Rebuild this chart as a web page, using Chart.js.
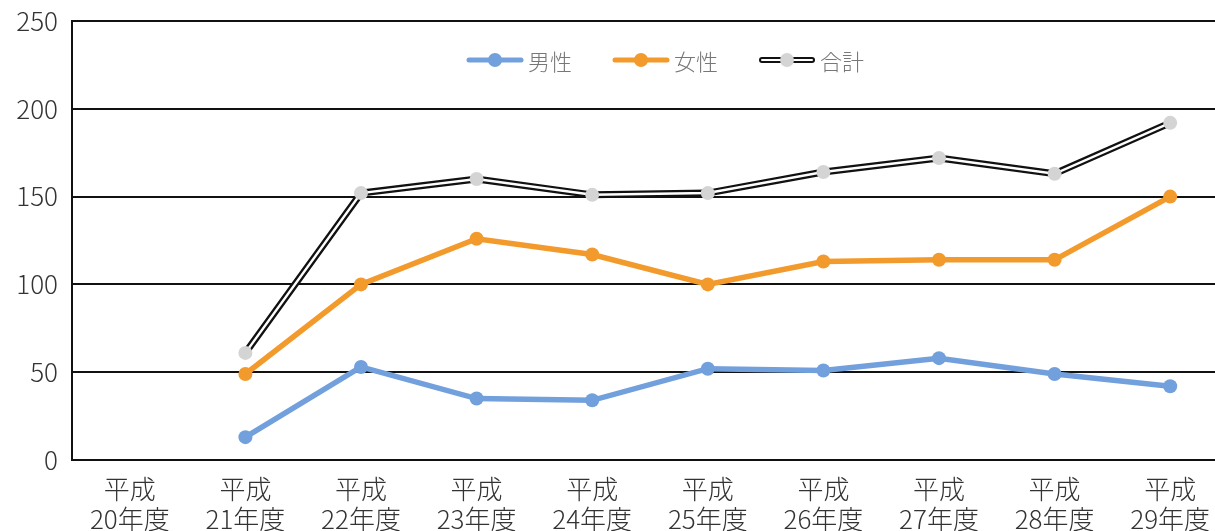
<!DOCTYPE html>
<html lang="ja">
<head>
    <meta charset="UTF-8">
    <title>男女別推移</title>
    <script src="https://cdn.jsdelivr.net/npm/chart.js"></script>
    <style>
        body {
            margin: 0;
            padding: 0;
            background: #ffffff;
            overflow: hidden;
            font-family: 'Noto Sans CJK JP', sans-serif;
        }
        .wrap {
            position: relative;
            width: 1228px;
            height: 531px;
        }
        .legend {
            position: absolute;
            top: 44px;
            left: 466px;
            display: flex;
            align-items: center;
            font-size: 22px;
            font-weight: 300;
            color: #777;
        }
        .item {
            display: flex;
            align-items: center;
            margin-right: 40px;
        }
        .item canvas {
            margin-right: 4px;
        }
    </style>
</head>
<body>
    <div class="wrap">
        <canvas id="chart"></canvas>
        <div class="legend">
            <div class="item"><canvas id="swMale" width="58" height="20"></canvas>男性</div>
            <div class="item"><canvas id="swFemale" width="58" height="20"></canvas>女性</div>
            <div class="item"><canvas id="swTotal" width="58" height="20"></canvas>合計</div>
        </div>
    </div>

    <script>
        // 年度
        const years = [
            ['平成', '20年度'], ['平成', '21年度'], ['平成', '22年度'], ['平成', '23年度'], ['平成', '24年度'],
            ['平成', '25年度'], ['平成', '26年度'], ['平成', '27年度'], ['平成', '28年度'], ['平成', '29年度']
        ];
        const male = [null, 13, 53, 35, 34, 52, 51, 58, 49, 42];
        const female = [null, 49, 100, 126, 117, 100, 113, 114, 114, 150];
        const total = [null, 61, 152, 160, 151, 152, 164, 172, 163, 192];
        const yTicks = [0, 50, 100, 150, 200, 250];

        const BLUE = '#72a0dc';
        const ORANGE = '#f39a2c';
        const GREY = '#d4d4d4';
        const FONT = "'Noto Sans CJK JP', sans-serif";

        function drawSwatch(id, kind) {
            const ctx = document.getElementById(id).getContext('2d');
            ctx.lineCap = 'round';
            if (kind === 'total') {
                ctx.strokeStyle = '#111';
                ctx.lineWidth = 6;
                ctx.beginPath(); ctx.moveTo(4, 10); ctx.lineTo(54, 10); ctx.stroke();
                ctx.strokeStyle = '#fff';
                ctx.lineWidth = 2;
                ctx.beginPath(); ctx.moveTo(4, 10); ctx.lineTo(54, 10); ctx.stroke();
                ctx.fillStyle = GREY;
            } else {
                const c = kind === 'male' ? BLUE : ORANGE;
                ctx.strokeStyle = c;
                ctx.lineWidth = 5;
                ctx.beginPath(); ctx.moveTo(3, 10); ctx.lineTo(55, 10); ctx.stroke();
                ctx.fillStyle = c;
            }
            ctx.beginPath(); ctx.arc(29, 10, 7, 0, Math.PI * 2); ctx.fill();
        }
        drawSwatch('swMale', 'male');
        drawSwatch('swFemale', 'female');
        drawSwatch('swTotal', 'total');

        new Chart(document.getElementById('chart'), {
            type: 'line',
            data: {
                labels: years,
                datasets: [
                    { label: '男性', data: male, borderColor: BLUE, backgroundColor: BLUE, borderWidth: 5.5,
                      pointRadius: 7, pointBorderWidth: 0, order: 0 },
                    { label: '女性', data: female, borderColor: ORANGE, backgroundColor: ORANGE, borderWidth: 5.5,
                      pointRadius: 7, pointBorderWidth: 0, order: 1 },
                    // 合計: white core over black line = double line
                    { label: '合計', data: total, borderColor: '#ffffff', backgroundColor: GREY, borderWidth: 2.5,
                      pointRadius: 7, pointBorderWidth: 0, order: 2 },
                    { label: '合計外枠', data: total, borderColor: '#111111', borderWidth: 7,
                      pointRadius: 0, order: 3 }
                ]
            },
            options: {
                responsive: true,
                maintainAspectRatio: false,
                animation: false,
                layout: { autoPadding: false, padding: { top: 21, right: 0, left: 0, bottom: 0 } },
                plugins: {
                    legend: { display: false },
                    tooltip: { enabled: false }
                },
                scales: {
                    x: {
                        offset: true,
                        afterFit: axis => { axis.height = 71; },
                        grid: { display: false, drawTicks: false },
                        border: { display: true, color: '#111', width: 2 },
                        ticks: {
                            color: '#333',
                            padding: 14,
                            maxRotation: 0,
                            autoSkip: false,
                            font: { family: FONT, size: 26, weight: 300, lineHeight: 1.15 }
                        }
                    },
                    y: {
                        min: 0,
                        max: 250,
                        afterBuildTicks: axis => { axis.ticks = yTicks.map(v => ({ value: v })); },
                        afterFit: axis => {
                            axis.width = 72;
                            axis.paddingTop = 0;
                            axis.paddingBottom = 0;
                        },
                        grid: { color: '#111', lineWidth: 2, drawTicks: false },
                        border: { display: true, color: '#111', width: 2 },
                        ticks: {
                            color: '#333',
                            padding: 14,
                            font: { family: FONT, size: 26, weight: 300 }
                        }
                    }
                }
            }
        });
    </script>
</body>
</html>
